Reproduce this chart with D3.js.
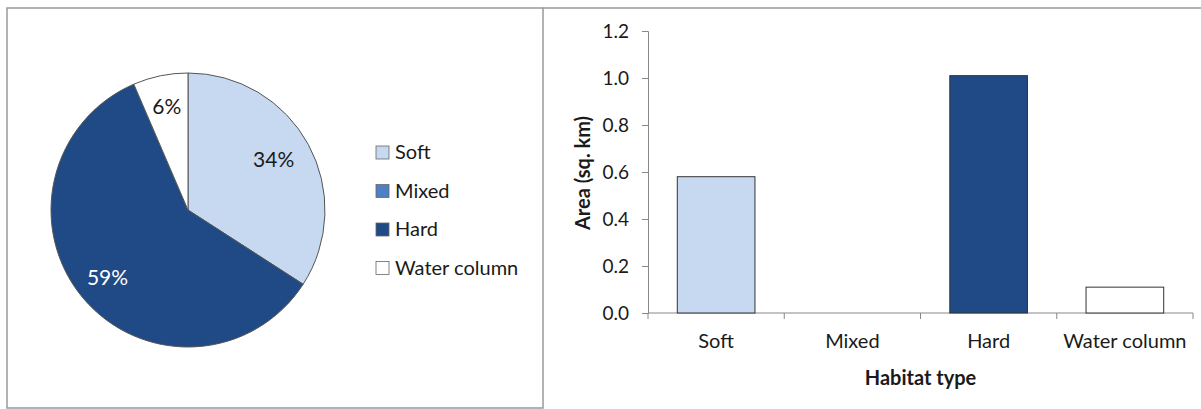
<!DOCTYPE html>
<html>
<head>
<meta charset="utf-8">
<script src="https://cdn.jsdelivr.net/npm/d3@7"></script>
<style>
  body { margin: 0; background: #fff; }
  svg text { font-family: Lato, "Open Sans", sans-serif; fill: #1a1a1a; }
</style>
</head>
<body>
<div id="chart"></div>
<script>
var w = 1201,
    h = 409;

// habitat data
var habitats = ["Soft", "Mixed", "Hard", "Water column"];
var areas = [0.58, 0, 1.01, 0.11];          // sq. km
var pieLabels = ["34%", "", "59%", "6%"];
var yTicks = [0, 0.2, 0.4, 0.6, 0.8, 1.0, 1.2];

var color = d3.scaleOrdinal()
    .domain(habitats)
    .range(["#c6d9f1", "#4f7fc4", "#1f4a86", "#ffffff"]);
var labelColor = d3.scaleOrdinal()
    .domain(habitats)
    .range(["#1a1a1a", "#1a1a1a", "#ffffff", "#1a1a1a"]);

var data = habitats.map(function(d, i) {
    return { habitat: d, area: areas[i], label: pieLabels[i] };
});

var svg = d3.select("#chart").append("svg")
    .attr("width", w)
    .attr("height", h);

///////////////// panel frames ////////////////
svg.append("rect")
    .attr("x", 7).attr("y", 8)
    .attr("width", 536).attr("height", 400)
    .attr("fill", "none")
    .attr("stroke", "#999")
    .attr("stroke-width", 1.5);
svg.append("line")
    .attr("x1", 543).attr("x2", w)
    .attr("y1", 8).attr("y2", 8)
    .attr("stroke", "#999")
    .attr("stroke-width", 1.5);

///////////////// pie ////////////////
var radius = 137;
var pieG = svg.append("g").attr("transform", "translate(188,210)");

var pie = d3.pie()
    .sort(null)
    .value(function(d) { return d.area; });
var arc = d3.arc().innerRadius(0).outerRadius(radius);
var labelArc = d3.arc().innerRadius(radius * 0.77).outerRadius(radius * 0.77);

var arcs = pie(data);

pieG.selectAll("path")
    .data(arcs)
    .enter().append("path")
    .attr("d", arc)
    .attr("fill", function(d) { return color(d.data.habitat); })
    .attr("stroke", function(d) { return d.data.area > 0 ? "#555" : "none"; })
    .attr("stroke-width", 1);

pieG.selectAll(".pie-label")
    .data(arcs.filter(function(d) { return d.data.area > 0; }))
    .enter().append("text")
    .attr("class", "pie-label")
    .attr("transform", function(d) {
        var c = labelArc.centroid(d);
        // excel nudges the soft label a bit inward
        if (d.data.habitat == "Soft") c[0] -= 7;
        return "translate(" + c + ")";
    })
    .attr("text-anchor", "middle")
    .attr("dy", "0.35em")
    .style("font-size", "21px")
    .style("fill", function(d) { return labelColor(d.data.habitat); })
    .text(function(d) { return d.data.label; });

// legend
var legend = svg.append("g").attr("transform", "translate(376,152)");
var items = legend.selectAll(".item")
    .data(habitats)
    .enter().append("g")
    .attr("class", "item")
    .attr("transform", function(d, i) { return "translate(0," + (i * 38.5) + ")"; });
items.append("rect")
    .attr("x", 0).attr("y", -6)
    .attr("width", 13).attr("height", 13)
    .attr("fill", function(d) { return color(d); })
    .attr("stroke", "#666")
    .attr("stroke-width", 0.8);
items.append("text")
    .attr("x", 19)
    .attr("dy", "0.36em")
    .style("font-size", "20px")
    .text(function(d) { return d; });

///////////////// bars ////////////////
var margin = { left: 648, right: 1193, top: 31, bottom: 313 };

var x = d3.scaleBand()
    .domain(habitats)
    .range([margin.left, margin.right])
    .paddingInner(0.43)
    .paddingOuter(0.215);
var xEdges = d3.scaleLinear()
    .domain([0, habitats.length])
    .range([margin.left, margin.right]);
var y = d3.scaleLinear()
    .domain([0, 1.2])
    .range([margin.bottom, margin.top]);

var yAxis = svg.append("g")
    .attr("transform", "translate(" + margin.left + ",0)")
    .call(d3.axisLeft(y).tickValues(yTicks).tickFormat(d3.format(".1f")).tickSize(6).tickPadding(13));
yAxis.selectAll("line, path").attr("stroke", "#888");
yAxis.selectAll("text").style("font-size", "19px").style("font-family", "Lato, sans-serif").attr("fill", "#1a1a1a");

svg.append("g")
    .attr("transform", "translate(0," + margin.bottom + ")")
    .selectAll("line")
    .data(d3.range(habitats.length + 1))
    .enter().append("line")
    .attr("x1", function(d) { return xEdges(d); })
    .attr("x2", function(d) { return xEdges(d); })
    .attr("y1", 0).attr("y2", 6)
    .attr("stroke", "#888");
svg.append("line")
    .attr("x1", margin.left).attr("x2", margin.right)
    .attr("y1", margin.bottom).attr("y2", margin.bottom)
    .attr("stroke", "#888");

svg.selectAll(".bar")
    .data(data.filter(function(d) { return d.area > 0; }))
    .enter().append("rect")
    .attr("class", "bar")
    .attr("x", function(d) { return x(d.habitat); })
    .attr("width", x.bandwidth())
    .attr("y", function(d) { return y(d.area); })
    .attr("height", function(d) { return y(0) - y(d.area); })
    .attr("fill", function(d) { return color(d.habitat); })
    .attr("stroke", "#333")
    .attr("stroke-width", 1);

svg.selectAll(".cat")
    .data(habitats)
    .enter().append("text")
    .attr("class", "cat")
    .attr("x", function(d) { return x(d) + x.bandwidth() / 2; })
    .attr("y", 341)
    .attr("dy", "0.35em")
    .attr("text-anchor", "middle")
    .style("font-size", "20px")
    .text(function(d) { return d; });

svg.append("text")
    .attr("x", (margin.left + margin.right) / 2)
    .attr("y", 378)
    .attr("dy", "0.35em")
    .attr("text-anchor", "middle")
    .style("font-size", "20px")
    .style("font-weight", "bold")
    .text("Habitat type");

svg.append("text")
    .attr("transform", "translate(583,173) rotate(-90)")
    .attr("dy", "0.35em")
    .attr("text-anchor", "middle")
    .style("font-size", "20px")
    .style("font-weight", "bold")
    .text("Area (sq. km)");
</script>
</body>
</html>
